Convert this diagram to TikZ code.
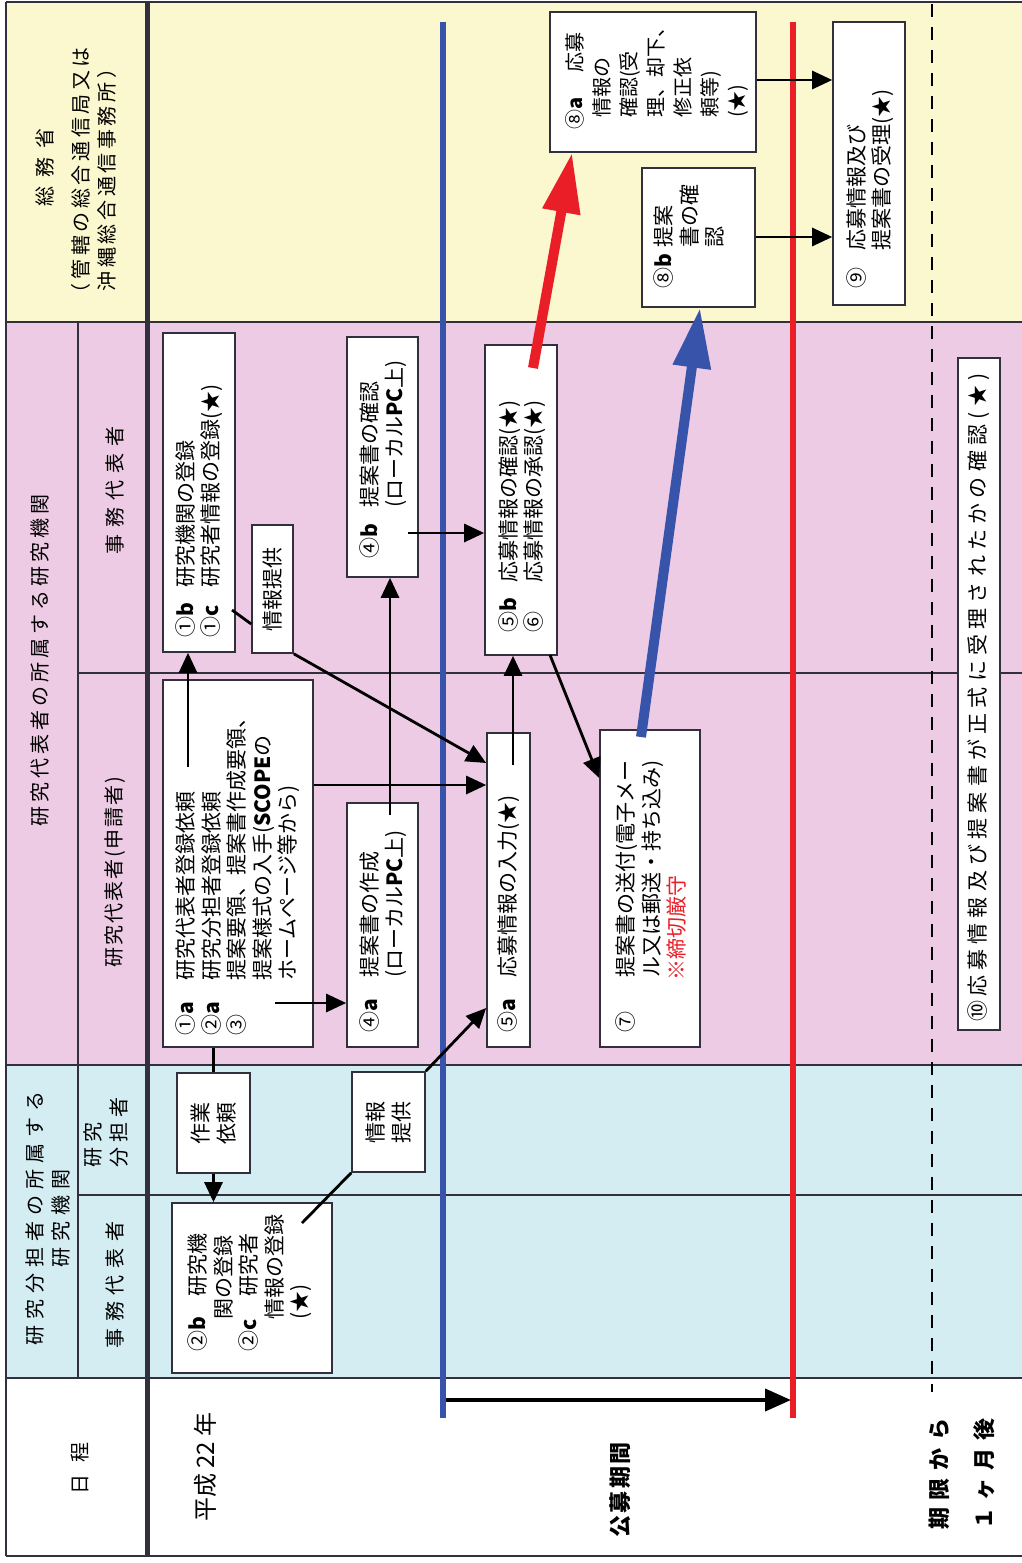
\documentclass[tikz,border=0pt]{standalone}
\usepackage{fontspec}
\setmainfont{Noto Sans CJK JP}
\usetikzlibrary{arrows.meta}
\definecolor{bandY}{RGB}{251,247,206}
\definecolor{bandP}{RGB}{238,203,228}
\definecolor{bandB}{RGB}{212,237,243}
\definecolor{lineC}{RGB}{50,48,60}
\definecolor{tlBlue}{RGB}{56,84,170}
\definecolor{tlRed}{RGB}{234,30,38}
\newcommand{\numbox}[2]{\makebox[#1][l]{#2}}
\begin{document}
\begin{tikzpicture}[x=1pt,y=-1pt,
 gline/.style={draw=lineC, line width=1.8pt},
 box/.style={draw=lineC, line width=1.6pt, fill=white, inner sep=0pt},
 txt/.style={rotate=90, inner sep=0pt, align=left, font=\fontsize{21}{25.5}\selectfont},
 ctxt/.style={rotate=90, inner sep=0pt, align=center, font=\fontsize{21}{25.5}\selectfont},
 hs/.style={rotate=90, inner sep=0pt, align=center, font={\fontsize{20}{26}\selectfont\addfontfeature{LetterSpace=#1}}},
 bs/.style={rotate=90, inner sep=0pt, align=left, font={\fontsize{22}{45}\selectfont\bfseries\addfontfeature{LetterSpace=#1}}},
 arr/.style={line width=2.8pt, -{Triangle[length=20pt,width=18pt]}},
 ln/.style={line width=2.8pt},
 bigred/.style={line width=10pt, tlRed, -{Triangle[length=60pt,width=36pt]}},
 bigblue/.style={line width=10pt, tlBlue, -{Triangle[length=60pt,width=36pt]}},
]
\useasboundingbox (0,0) rectangle (1022,1563);
\fill[white] (0,0) rectangle (1022,1563);
% bands
\fill[bandY] (6,2) rectangle (1022,322);
\fill[bandP] (6,322) rectangle (1022,1065);
\fill[bandB] (6,1065) rectangle (1022,1378);
% grid lines
\draw[gline] (6,2) -- (1022,2);
\draw[gline] (6,2) -- (6,1556);
\draw[gline] (6,1556) -- (1022,1556);
\draw[gline] (6,322) -- (1022,322);
\draw[gline] (6,1065) -- (1022,1065);
\draw[gline, line width=2.4pt] (6,1378) -- (1022,1378);
\draw[gline] (78,673) -- (1022,673);
\draw[gline] (78,1195) -- (1022,1195);
\draw[gline] (78,322) -- (78,1378);
\draw[draw=lineC, line width=5pt] (147,2) -- (147,1556);
% timeline lines
\draw[line width=6pt, tlBlue] (443,22) -- (443,1418);
\draw[line width=6pt, tlRed] (793,22) -- (793,1418);
\draw[line width=1.8pt, dash pattern=on 13pt off 10pt] (932,4) -- (932,1392);
% boxes
\node[box, minimum width=72pt, minimum height=319pt] (B1) at (199,492.5) {};
\node[box, minimum width=41pt, minimum height=128pt] (B2) at (272.5,589) {};
\node[box, minimum width=150pt, minimum height=367pt] (B3) at (238,863.5) {};
\node[box, minimum width=71pt, minimum height=244pt] (B4) at (382.5,925) {};
\node[box, minimum width=71pt, minimum height=240pt] (B5) at (382.5,457) {};
\node[box, minimum width=43pt, minimum height=314pt] (B6) at (508.5,890) {};
\node[box, minimum width=72pt, minimum height=310pt] (B7) at (521,500) {};
\node[box, minimum width=100pt, minimum height=317pt] (B8) at (650,888.5) {};
\node[box, minimum width=206pt, minimum height=140pt] (B9) at (653,82) {};
\node[box, minimum width=113pt, minimum height=139pt] (B10) at (698.5,237.5) {};
\node[box, minimum width=72pt, minimum height=283pt] (B11) at (869,163.5) {};
\node[box, minimum width=42pt, minimum height=672pt] (B12) at (979,694) {};
\node[box, minimum width=73pt, minimum height=100pt] (B13) at (213.5,1123) {};
\node[box, minimum width=160pt, minimum height=170pt] (B14) at (252,1288) {};
\node[box, minimum width=73pt, minimum height=100pt] (B15) at (388.5,1122) {};
% box texts
\node[txt, anchor=west] (T1) at (199,638) {\numbox{50pt}{①\textbf{b}}研究機関の登録\\\numbox{50pt}{①\textbf{c}}研究者情報の登録(★)};
\node[ctxt] (T2) at (B2) {情報提供};
\node[txt, anchor=west] (T3) at (238,1036) {\numbox{55pt}{①\textbf{a}}研究代表者登録依頼\\\numbox{55pt}{②\textbf{a}}研究分担者登録依頼\\\numbox{55pt}{③}提案要領、提案書作成要領、\\\hspace*{55pt}提案様式の入手(\textbf{SCOPE}の\\\hspace*{55pt}ホームページ等から)};
\node[txt, anchor=west] (T4) at (383,1033) {\numbox{55pt}{④\textbf{a}}提案書の作成\\\hspace*{55pt}(ローカル\textbf{PC}上)};
\node[txt, anchor=west] (T5) at (383,559) {\numbox{51pt}{④\textbf{b}}提案書の確認\\\hspace*{51pt}(ローカル\textbf{PC}上)};
\node[txt, anchor=west] (T6) at (509,1033) {\numbox{55pt}{⑤\textbf{a}}応募情報の入力(★)};
\node[txt, anchor=west] (T7) at (522,633) {\numbox{50pt}{⑤\textbf{b}}応募情報の確認(★)\\\numbox{50pt}{⑥}応募情報の承認(★)};
\node[txt, anchor=west] (T8) at (651,1033) {\numbox{55pt}{⑦}提案書の送付(電子メー\\\hspace*{55pt}ル又は郵送・持ち込み)\\\hspace*{52pt}\textcolor{tlRed}{※締切厳守}};
\node[txt, anchor=west, font=\fontsize{20}{27}\selectfont] (T9) at (657,130) {\numbox{57pt}{⑧\textbf{a}}応募\\\hspace*{12pt}情報の\\\hspace*{12pt}確認(受\\\hspace*{12pt}理、却下、\\\hspace*{12pt}修正依\\\hspace*{12pt}頼等)\\\hspace*{12pt}(★)};
\node[txt, anchor=west] (T10) at (689,289) {\numbox{41pt}{⑧\textbf{b}}提案\\\hspace*{41pt}書の確\\\hspace*{41pt}認};
\node[txt, anchor=west] (T11) at (870,289) {\numbox{38pt}{⑨}応募情報及び\\\hspace*{38pt}提案書の受理(★)};
\node[txt, anchor=west, font={\fontsize{21}{25.5}\selectfont\addfontfeature{LetterSpace=25}}] (T12) at (979,1022) {⑩\hspace{4pt}応募情報及び提案書が正式に受理されたかの確認(★)};
\node[ctxt] (T13) at (B13) {作業\\依頼};
\node[txt, anchor=west] (T14) at (250,1352) {\numbox{55pt}{②\textbf{b}}研究機\\\hspace*{32pt}関の登録\\\numbox{55pt}{②\textbf{c}}研究者\\\hspace*{32pt}情報の登録\\\hspace*{32pt}(★)};
\node[ctxt] (T15) at (B15) {情報\\提供};
% headers
\node[hs=45] (H1) at (45,167) {総務省};
\node[hs=18] (H2) at (94,175) {（管轄の総合通信局又は\\沖縄総合通信事務所）};
\node[hs=20] (H3) at (40,660) {研究代表者の所属する研究機関};
\node[hs=35] (H4) at (115,490) {事務代表者};
\node[hs=10] (H5) at (115,872) {研究代表者(申請者)};
\node[hs=30] (H6) at (48,1218) {研究分担者の所属する\\研究機関};
\node[hs=25, align=left, anchor=west] (H7) at (106,1168) {研究\\分担者};
\node[hs=33] (H8) at (115,1285) {事務代表者};
\node[hs=0] (H9) at (80,1468) {日\hspace{12pt}程};
\node[rotate=90, inner sep=0pt, font=\fontsize{24}{28}\selectfont] (H10) at (205,1467) {平成 22 年};
\node[bs=10] (H11) at (620,1490) {公募期間};
\node[bs=35, anchor=west] (H12) at (962,1530) {期限から\\１ヶ月後};
% timeline arrow
\coordinate (tb) at (446,1400);
\coordinate (tr) at (791,1400);
\draw[line width=4pt, -{Triangle[length=26pt,width=22pt]}] (tb) -- (tr);
% connectors
\coordinate (c1) at (188,767);
\draw[arr] (c1) -- (c1 |- B1.south);
\draw[ln] (B3.south -| B13.north) -- (B13.north);
\draw[arr] (B13.south) -- (B13.south |- B14.north);
\coordinate (c3) at (275,1003);
\draw[arr] (c3) -- (c3 -| B4.west);
\coordinate (c4) at (300,785);
\draw[arr] (c4 -| B3.east) -- (c4 -| B6.west);
\coordinate (c5) at (390,815);
\draw[arr] (c5) -- (c5 |- B5.south);
\coordinate (c6) at (408,533);
\draw[arr] (c6) -- (c6 -| B7.west);
\coordinate (c7) at (513,765);
\draw[arr] (c7) -- (c7 |- B7.south);
\coordinate (c8) at (550,655);
\coordinate (c8e) at (600,778);
\draw[arr] (c8) -- (c8e -| B8.west);
\coordinate (c9) at (232,610);
\coordinate (c9e) at (252,624);
\draw[ln] (c9) -- (c9e -| B2.west);
\coordinate (c10e) at (487,763);
\draw[arr] (B2.south east) -- (c10e -| B6.west);
\coordinate (c11) at (302,1223);
\draw[ln] (c11) -- (B15.south west);
\coordinate (c12e) at (487,1008);
\draw[arr] (B15.north east) -- (c12e -| B6.west);
\coordinate (c13) at (533,368);
\coordinate (c13e) at (572,153);
\draw[bigred] (c13) -- (c13e |- B9.south);
\coordinate (c14) at (641,737);
\coordinate (c14e) at (700,308);
\draw[bigblue] (c14) -- (c14e |- B10.south);
\coordinate (c15) at (755,80);
\draw[arr] (c15 -| B9.east) -- (c15 -| B11.west);
\coordinate (c16) at (755,237);
\draw[arr] (c16 -| B10.east) -- (c16 -| B11.west);
\end{tikzpicture}
\end{document}
